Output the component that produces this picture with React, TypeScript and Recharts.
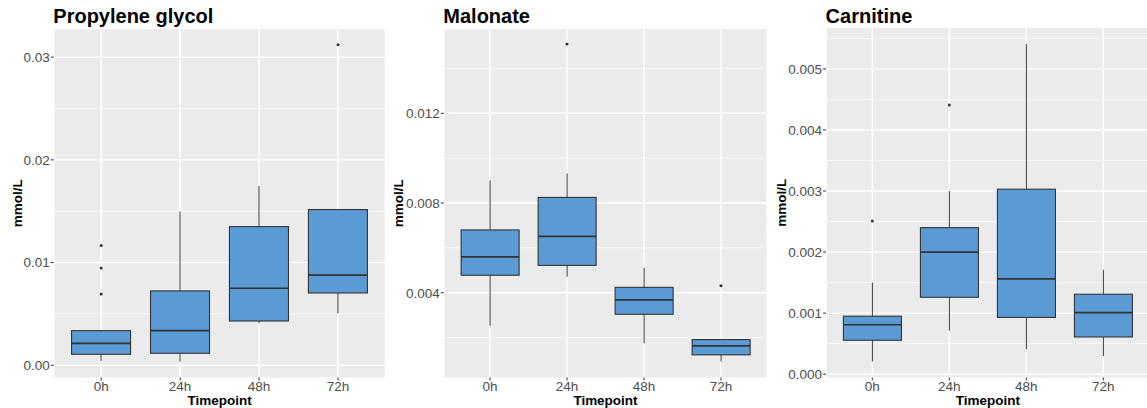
import React from "react";
import {
  ComposedChart,
  Bar,
  Line,
  XAxis,
  YAxis,
  CartesianGrid,
  Label,
} from "recharts";

const timepoints = ["0h", "24h", "48h", "72h"];

// each row: [lower whisker, Q1, median, Q3, upper whisker]
const propyleneStats = [
  [0.00042, 0.00107, 0.00214, 0.00337, 0.00337],
  [0.00035, 0.00117, 0.00337, 0.00724, 0.01496],
  [0.00409, 0.00431, 0.0075, 0.0135, 0.01746],
  [0.00506, 0.00704, 0.00877, 0.01516, 0.01516],
];
const propyleneOutliers = [[0.01165, 0.00948, 0.00694], [], [], [0.0312]];

const malonateStats = [
  [0.00253, 0.00478, 0.0056, 0.0068, 0.009],
  [0.00471, 0.00522, 0.00651, 0.00825, 0.00932],
  [0.00175, 0.00304, 0.00368, 0.00424, 0.00511],
  [0.00093, 0.00123, 0.00163, 0.00191, 0.00191],
];
const malonateOutliers = [[], [0.01509], [], [0.00431]];

const carnitineStats = [
  [0.00021, 0.000556, 0.00081, 0.00095, 0.0015],
  [0.00071, 0.00126, 0.002, 0.0024, 0.003],
  [0.00041, 0.00093, 0.00156, 0.00303, 0.00541],
  [0.0003, 0.00061, 0.00101, 0.00131, 0.00171],
];
const carnitineOutliers = [[0.00251], [0.00441], [], []];

const propyleneTicks = [0, 0.01, 0.02, 0.03];
const propyleneMinor = [0.005, 0.015, 0.025];
const malonateTicks = [0.004, 0.008, 0.012];
const malonateMinor = [0.002, 0.006, 0.01, 0.014];
const carnitineTicks = [0, 0.001, 0.002, 0.003, 0.004, 0.005];
const carnitineMinor = [0.0005, 0.0015, 0.0025, 0.0035, 0.0045, 0.0055];

const FILL = "#5A9BD6";
const FONT = "'Liberation Sans', Arial, Helvetica, sans-serif";

const buildRows = (stats: number[][], outliers: number[][]) =>
  timepoints.map((time, i) => {
    const [lo, q1, med, q3, hi] = stats[i];
    const row: any = { time, range: [lo, hi], lo, q1, med, q3, hi };
    for (let k = 0; k < 3; k++) row["out" + k] = outliers[i][k] ?? null;
    return row;
  });

// whisker + box + median, placed inside the [lo, hi] bar the library lays out
const BoxShape = (props: any) => {
  const { x, y, width, height } = props;
  const d = props.payload ?? props;
  const top = Math.min(y, y + height);
  const bottom = Math.max(y, y + height);
  const toY = (v: number) =>
    d.hi === d.lo ? top : top + ((bottom - top) * (d.hi - v)) / (d.hi - d.lo);
  const cx = x + width / 2;
  return (
    <g>
      <line x1={cx} x2={cx} y1={top} y2={bottom} stroke="#4D4D4D" strokeWidth={1.1} />
      <rect
        x={x}
        y={toY(d.q3)}
        width={width}
        height={toY(d.q1) - toY(d.q3)}
        fill={FILL}
        stroke="#333333"
        strokeWidth={1.1}
      />
      <line
        x1={x}
        x2={x + width}
        y1={toY(d.med)}
        y2={toY(d.med)}
        stroke="#333333"
        strokeWidth={1.7}
      />
    </g>
  );
};

type PanelProps = {
  title: string;
  rows: any[];
  left: number;
  plotLeft: number;
  plotRight: number;
  plotTop: number;
  domain: [number, number];
  ticks: number[];
  minor: number[];
  digits: number;
  labelX: number;
};

const PLOT_BOTTOM = 377.5;
const HEIGHT = 408;

const Panel = (p: PanelProps) => {
  const band = (p.plotRight - p.plotLeft) / 4.2;
  const pad = band * 0.1;
  const yLabel = (lp: any) => {
    const vb = lp.viewBox;
    const cx = vb.x + p.labelX;
    const cy = p.plotTop + (PLOT_BOTTOM - p.plotTop) / 2;
    return (
      <text
        x={cx}
        y={cy}
        dy="0.36em"
        transform={`rotate(-90 ${cx} ${cy})`}
        textAnchor="middle"
        fontSize={13.5}
        fontWeight={700}
        fill="#000"
      >
        mmol/L
      </text>
    );
  };
  return (
    <div style={{ position: "absolute", left: p.left, top: 0 }}>
      <div
        style={{
          position: "absolute",
          left: p.plotLeft - p.left - 0.5,
          top: 6.4,
          fontSize: 20,
          lineHeight: "20px",
          fontWeight: 700,
          whiteSpace: "nowrap",
          color: "#000",
        }}
      >
        {p.title}
      </div>
      <ComposedChart
        width={p.plotRight - p.left}
        height={HEIGHT}
        data={p.rows}
        margin={{ top: p.plotTop, right: 0, bottom: 0, left: 0 }}
        barCategoryGap="12.5%"
      >
        <CartesianGrid
          fill="#EBEBEB"
          stroke="#FFFFFF"
          strokeWidth={0.7}
          vertical={false}
          horizontalValues={p.minor}
        />
        <CartesianGrid
          stroke="#FFFFFF"
          strokeWidth={1.4}
          horizontalValues={p.ticks}
        />
        <XAxis
          dataKey="time"
          height={HEIGHT - PLOT_BOTTOM}
          padding={{ left: pad, right: pad }}
          axisLine={false}
          tickSize={3}
          tickMargin={1}
          tickLine={{ stroke: "#333333" }}
          tick={{ fill: "#4D4D4D", fontSize: 13.5 }}
          interval={0}
        >
          <Label
            value="Timepoint"
            position="insideBottom"
            offset={3}
            style={{ fontWeight: 700, fontSize: 13.5, fill: "#000" }}
          />
        </XAxis>
        <YAxis
          type="number"
          width={p.plotLeft - p.left}
          domain={p.domain}
          allowDataOverflow
          ticks={p.ticks}
          interval={0}
          axisLine={false}
          tickSize={3}
          tickMargin={1}
          tickLine={{ stroke: "#333333" }}
          tick={{ fill: "#4D4D4D", fontSize: 13.5 }}
          tickFormatter={(v: number) => v.toFixed(p.digits)}
        >
          <Label content={yLabel} />
        </YAxis>
        <Bar dataKey="range" shape={<BoxShape />} isAnimationActive={false} />
        {["out0", "out1", "out2"].map((k) => (
          <Line
            key={k}
            dataKey={k}
            stroke="none"
            dot={{ r: 1.5, fill: "#333333", stroke: "none" }}
            activeDot={false}
            legendType="none"
            isAnimationActive={false}
          />
        ))}
      </ComposedChart>
    </div>
  );
};

export default function App() {
  return (
    <div
      style={{
        position: "absolute",
        left: 0,
        top: 0,
        width: 1147,
        height: 408,
        overflow: "hidden",
        background: "#FFFFFF",
        fontFamily: FONT,
      }}
    >
      <Panel
        title="Propylene glycol"
        rows={buildRows(propyleneStats, propyleneOutliers)}
        left={0}
        plotLeft={53.8}
        plotRight={385.4}
        plotTop={29}
        domain={[-0.00119, 0.03274]}
        ticks={propyleneTicks}
        minor={propyleneMinor}
        digits={2}
        labelX={16.7}
      />
      <Panel
        title="Malonate"
        rows={buildRows(malonateStats, malonateOutliers)}
        left={390}
        plotLeft={443.8}
        plotRight={767.2}
        plotTop={29}
        domain={[0.00022, 0.01576]}
        ticks={malonateTicks}
        minor={malonateMinor}
        digits={3}
        labelX={8}
      />
      <Panel
        title="Carnitine"
        rows={buildRows(carnitineStats, carnitineOutliers)}
        left={770}
        plotLeft={826.1}
        plotRight={1149.5}
        plotTop={28}
        domain={[-0.000054, 0.00567]}
        ticks={carnitineTicks}
        minor={carnitineMinor}
        digits={3}
        labelX={11}
      />
    </div>
  );
}
